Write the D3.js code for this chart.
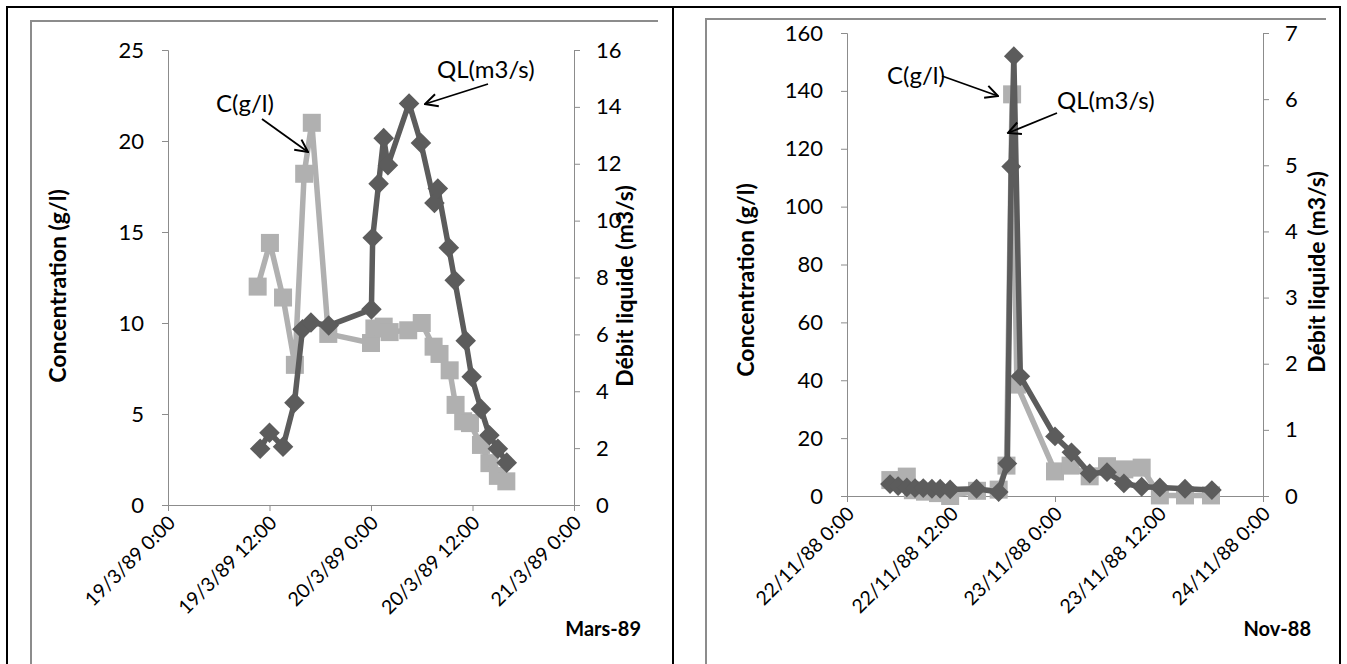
<!DOCTYPE html>
<html><head><meta charset="utf-8">
<script src="https://cdn.jsdelivr.net/npm/d3@7"></script>
<style>
html,body{margin:0;padding:0;background:#fff;}
svg{display:block;font-family:Lato,"Open Sans",sans-serif;}
</style></head>
<body><svg id="c" width="1347" height="664"></svg>
<script>
// ---------- DATA ----------
// Mars-89 event: hours after 19/3/89 0:00
const marsStart = "1989-03-19T00:00";
const marsC_hours = [10.6,12.05,13.6,15.0,16.1,17.0,18.95,24.0,24.4,25.5,26.2,28.4,30.0,31.4,32.1,33.3,34.0,34.9,35.7,37.0,38.0,39.0,40.0];
const marsC_vals  = [12.0,14.4,11.4,7.7,18.2,21.0,9.4,8.9,9.7,9.8,9.5,9.6,10.0,8.7,8.3,7.4,5.5,4.6,4.5,3.3,2.3,1.6,1.3];
const marsQ_hours = [10.9,12.0,13.6,14.95,15.9,16.9,19.0,24.05,24.2,24.9,25.5,26.0,28.5,29.9,31.5,31.9,33.2,33.9,35.2,35.9,37.0,38.0,39.0,40.05];
const marsQ_vals  = [1.98,2.54,2.05,3.6,6.18,6.42,6.31,6.88,9.4,11.3,12.9,11.95,14.12,12.73,10.62,11.13,9.05,7.9,5.78,4.51,3.38,2.45,1.98,1.49];
const marsXTicks = ["1989-03-19T00:00","1989-03-19T12:00","1989-03-20T00:00","1989-03-20T12:00","1989-03-21T00:00"];
const marsCTicks = [0,5,10,15,20,25];
const marsQTicks = [0,2,4,6,8,10,12,14,16];

// Nov-88 event: hours after 22/11/88 0:00
const novStart = "1988-11-22T00:00";
const novC_hours = [5.0,6.9,7.6,9.0,10.5,11.9,15.0,17.5,18.4,19.05,19.6,24.0,25.8,28.0,30.0,32.0,34.0,36.1,39.0,42.0];
const novC_vals  = [5.5,6.7,2.0,1.5,1.0,0.0,1.8,2.2,10.5,138.8,38.5,8.5,10.5,6.8,10.3,9.2,9.8,0.2,0.2,0.2];
const novQ_hours = [4.96,5.9,6.9,7.85,8.8,9.8,10.75,11.9,14.95,17.5,18.5,18.95,19.25,20.0,24.0,25.9,28.0,30.0,31.95,34.0,36.1,39.0,42.1];
const novQ_vals  = [0.18,0.15,0.13,0.12,0.12,0.11,0.11,0.1,0.11,0.06,0.49,4.98,6.65,1.81,0.9,0.66,0.34,0.36,0.19,0.14,0.13,0.11,0.09];
const novXTicks = ["1988-11-22T00:00","1988-11-22T12:00","1988-11-23T00:00","1988-11-23T12:00","1988-11-24T00:00"];
const novCTicks = [0,20,40,60,80,100,120,140,160];
const novQTicks = [0,1,2,3,4,5,6,7];

const seriesNames = ["C(g/l)","QL(m3/s)"];
const yTitleLeft = "Concentration (g/l)";
const yTitleRight = "Débit liquide (m3/s)";
const panelLabels = ["Mars-89","Nov-88"];

// ---------- DRAW ----------
const svg = d3.select("#c");
const parse = d3.timeParse("%Y-%m-%dT%H:%M");
const fmt = d3.timeFormat("%-d/%-m/%y %-H:%M");
const colC = "#b0b0b0", colQ = "#5c5c5c", axisCol = "#8c8c8c";

svg.append("defs").append("marker").attr("id","arr")
  .attr("viewBox","0 0 12 12").attr("refX",11).attr("refY",6)
  .attr("markerWidth",15).attr("markerHeight",15).attr("markerUnits","userSpaceOnUse")
  .attr("orient","auto")
  .append("path").attr("d","M1,1 L11,6 L1,11").attr("fill","none").attr("stroke","#000").attr("stroke-width",1.6);

// frames
svg.append("path").attr("d","M7,664 V7 H1340 V664 M673,7 V664").attr("fill","none").attr("stroke","#000").attr("stroke-width",2);
svg.append("path").attr("d","M31,664 V21 H658").attr("fill","none").attr("stroke","#8c8c8c").attr("stroke-width",2);
svg.append("path").attr("d","M706,664 V19 H1326").attr("fill","none").attr("stroke","#8c8c8c").attr("stroke-width",2);

function panel(o){
  const start = parse(o.start);
  const xt = o.xTicks.map(parse);
  const x = d3.scaleTime().domain([xt[0], xt[xt.length-1]]).range([o.x0,o.x1]);
  const yL = d3.scaleLinear().domain([0,o.cTicks[o.cTicks.length-1]]).range([o.yb,o.yt]);
  const yR = d3.scaleLinear().domain([0,o.qTicks[o.qTicks.length-1]]).range([o.yb,o.yt]);
  const g = svg.append("g");
  const styleAxis = (fs) => sel => {
    sel.select(".domain").attr("stroke",axisCol);
    sel.selectAll(".tick line").attr("stroke",axisCol);
    sel.selectAll("text").attr("fill","#000").style("font-size",fs+"px").style("font-family","Lato,sans-serif");
  };
  g.append("g").attr("transform",`translate(${o.x0},0)`)
    .call(d3.axisLeft(yL).tickValues(o.cTicks).tickFormat(d3.format("d")).tickSize(6).tickSizeOuter(6).tickPadding(18))
    .call(styleAxis(22));
  g.append("g").attr("transform",`translate(${o.x1},0)`)
    .call(d3.axisRight(yR).tickValues(o.qTicks).tickFormat(d3.format("d")).tickSize(6).tickSizeOuter(6).tickPadding(16))
    .call(styleAxis(22));
  const xa = g.append("g").attr("transform",`translate(0,${o.yb})`)
    .call(d3.axisBottom(x).tickValues(xt).tickFormat(fmt).tickSize(6).tickSizeOuter(0))
    .call(styleAxis(19.5));
  xa.selectAll("text").attr("text-anchor","end").attr("dy",null).attr("y",0)
    .attr("transform","translate(8,19) rotate(-45)");

  const ptsC = o.cH.map((h,i)=>[x(d3.timeMinute.offset(start, Math.round(h*60))), yL(o.cV[i])]);
  const ptsQ = o.qH.map((h,i)=>[x(d3.timeMinute.offset(start, Math.round(h*60))), yR(o.qV[i])]);
  const line = d3.line();
  g.append("path").attr("d",line(ptsC)).attr("fill","none").attr("stroke",colC).attr("stroke-width",5.5).attr("stroke-linejoin","round");
  g.selectAll(".sq").data(ptsC).join("rect").attr("x",d=>d[0]-o.sq/2).attr("y",d=>d[1]-o.sq/2)
    .attr("width",o.sq).attr("height",o.sq).attr("fill",colC);
  g.append("path").attr("d",line(ptsQ)).attr("fill","none").attr("stroke",colQ).attr("stroke-width",5.5).attr("stroke-linejoin","round");
  const dm = d3.symbol().type(d3.symbolDiamond2).size(o.dm);
  g.selectAll(".dm").data(ptsQ).join("path").attr("d",dm).attr("transform",d=>`translate(${d[0]},${d[1]})`).attr("fill",colQ);

  g.append("text").attr("transform",`translate(${o.tL[0]},${o.tL[1]}) rotate(-90)`).attr("text-anchor","middle")
    .style("font-size","23px").style("font-weight","bold").text(yTitleLeft);
  g.append("text").attr("transform",`translate(${o.tR[0]},${o.tR[1]}) rotate(-90)`).attr("text-anchor","middle")
    .style("font-size","23px").style("font-weight","bold").text(yTitleRight);
  g.append("text").attr("x",o.pl[0]).attr("y",o.pl[1]).attr("text-anchor","end")
    .style("font-size","20px").style("font-weight","bold").text(o.label);

  o.ann.forEach((a,i)=>{
    g.append("text").attr("x",a.tx).attr("y",a.ty).style("font-size","24px").text(seriesNames[i]);
    g.append("line").attr("x1",a.a[0]).attr("y1",a.a[1]).attr("x2",a.a[2]).attr("y2",a.a[3])
      .attr("stroke","#000").attr("stroke-width",1.8).attr("marker-end","url(#arr)");
  });
}

panel({start:marsStart, xTicks:marsXTicks, cTicks:marsCTicks, qTicks:marsQTicks,
  cH:marsC_hours, cV:marsC_vals, qH:marsQ_hours, qV:marsQ_vals,
  x0:168, x1:574, yb:505, yt:50, sq:18, dm:270,
  tL:[66,286], tR:[633,286], pl:[641,636], label:panelLabels[0],
  ann:[{tx:216,ty:112,a:[262,119,308,152]},{tx:437,ty:78,a:[488,84,425,104]}]});

panel({start:novStart, xTicks:novXTicks, cTicks:novCTicks, qTicks:novQTicks,
  cH:novC_hours, cV:novC_vals, qH:novQ_hours, qV:novQ_vals,
  x0:847, x1:1263, yb:496, yt:33, sq:18, dm:250,
  tL:[754,280], tR:[1325,272], pl:[1311,636], label:panelLabels[1],
  ann:[{tx:887,ty:84,a:[942,76,998,96]},{tx:1057,ty:109,a:[1057,113,1008,133]}]});
</script></body></html>
